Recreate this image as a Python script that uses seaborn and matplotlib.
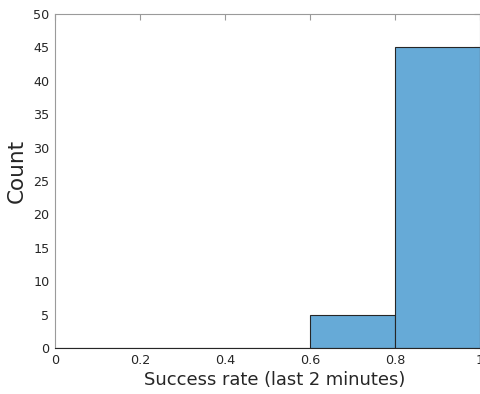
import numpy as np
import pandas as pd
import seaborn as sns
import matplotlib
matplotlib.use("Agg")
import matplotlib.pyplot as plt

# Histogram of success rate over the last 2 minutes
bin_edges = [0.0, 0.2, 0.4, 0.6, 0.8, 1.0]
counts = [0, 0, 0, 5, 45]
bin_centers = [(a + b) / 2 for a, b in zip(bin_edges[:-1], bin_edges[1:])]

x_ticks = [0, 0.2, 0.4, 0.6, 0.8, 1]
x_tick_labels = ["0", "0.2", "0.4", "0.6", "0.8", "1"]
y_ticks = list(range(0, 55, 5))

df = pd.DataFrame({"rate": bin_centers, "count": counts})

sns.set_style("white")
plt.rcParams["font.family"] = ["DejaVu Sans"]

fig = plt.figure(figsize=(4.8, 3.94), dpi=100)
ax = fig.add_axes([0.1146, 0.1168, 0.8854, 0.8477])

sns.histplot(data=df, x="rate", weights="count", bins=bin_edges,
             color="#66AAD7", alpha=1.0, edgecolor="#262626", linewidth=0.8,
             ax=ax)

ax.set_xlim(0, 1)
ax.set_ylim(0, 50)
ax.set_xticks(x_ticks)
ax.set_xticklabels(x_tick_labels)
ax.set_yticks(y_ticks)

for name, s in ax.spines.items():
    s.set_visible(True)
    s.set_color("#9a9a9a")
    s.set_linewidth(0.8)
ax.spines["bottom"].set_color("#262626")

ax.tick_params(direction="in", length=4, width=0.8, color="#9a9a9a",
               labelcolor="#262626", labelsize=9.2, top=True, right=True,
               pad=4)

ax.set_xlabel("Success rate (last 2 minutes)", fontsize=12.9, color="#262626")
ax.xaxis.set_label_coords(0.518, -0.068)
ax.set_ylabel("Count", fontsize=15.5, color="#262626")
ax.yaxis.set_label_coords(-0.067, 0.531)

fig.savefig("out.png", dpi=100)
